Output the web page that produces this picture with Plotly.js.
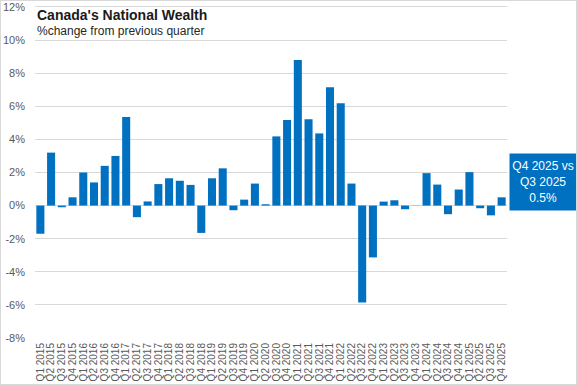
<!DOCTYPE html>
<html><head><meta charset="utf-8">
<script src="https://cdn.plot.ly/plotly-3.0.1.min.js"></script>
<style>
html,body{margin:0;padding:0;background:#fff;}
#chart{width:575px;height:383px;border:1px solid #d9d9d9;}
</style></head>
<body><div id="chart"></div>
<script>
const quarters = ["Q1 2015","Q2 2015","Q3 2015","Q4 2015","Q1 2016","Q2 2016","Q3 2016","Q4 2016",
"Q1 2017","Q2 2017","Q3 2017","Q4 2017","Q1 2018","Q2 2018","Q3 2018","Q4 2018",
"Q1 2019","Q2 2019","Q3 2019","Q4 2019","Q1 2020","Q2 2020","Q3 2020","Q4 2020",
"Q1 2021","Q2 2021","Q3 2021","Q4 2021","Q1 2022","Q2 2022","Q3 2022","Q4 2022",
"Q1 2023","Q2 2023","Q3 2023","Q4 2023","Q1 2024","Q2 2024","Q3 2024","Q4 2024",
"Q1 2025","Q2 2025","Q3 2025","Q4 2025"];
const pctChange = [-1.7,3.2,-0.1,0.5,2.0,1.4,2.4,3.0,
5.35,-0.7,0.25,1.3,1.65,1.5,1.25,-1.65,
1.65,2.25,-0.28,0.36,1.33,0.08,4.18,5.17,
8.79,5.21,4.36,7.15,6.18,1.33,-5.86,-3.13,
0.24,0.32,-0.22,0.01,1.96,1.27,-0.52,0.97,
2.02,-0.16,-0.59,0.5];
const yTicks = [-8,-6,-4,-2,0,2,4,6,8,10,12];
const yTickText = ["-8%","-6%","-4%","-2%","0%","2%","4%","6%","8%","10%","12%"];
const titleText = "Canada's National Wealth";
const subtitleText = "%change from previous quarter";
const calloutText = "Q4 2025 vs<br>Q3 2025<br>0.5%";

const trace = {type:'bar', x:quarters, y:pctChange, marker:{color:'#0070C0'}, hoverinfo:'x+y'};
const layout = {
  width:575, height:383,
  margin:{l:34,r:69,t:1,b:46},
  paper_bgcolor:'#fff', plot_bgcolor:'#fff',
  bargap:0.25,
  showlegend:false,
  font:{family:'Liberation Sans, Arial, sans-serif', color:'#595959'},
  xaxis:{type:'category', tickmode:'array', tickvals:quarters, ticktext:quarters, tickangle:-90, tickfont:{size:10,color:'#595959'}, showgrid:false, zeroline:false, showline:false, ticks:'', automargin:false, ticklabelstandoff:2},
  yaxis:{autorange:false, range:[-8,12.3], tickmode:'array', tickvals:yTicks, ticktext:yTickText, tickfont:{size:11,color:'#595959'}, gridcolor:'#d9d9d9', gridwidth:1, zeroline:true, zerolinecolor:'#d9d9d9', zerolinewidth:1, showline:false, ticks:'', automargin:false, ticklabelstandoff:9, ticklabeloverflow:'allow'},
  annotations:[
    {xref:'paper', yref:'paper', x:0.0, y:0.931, xanchor:'left', yanchor:'bottom', text:'<b>'+titleText+'</b>', showarrow:false, font:{size:14, color:'#1a1a1a', family:'Liberation Sans, Arial, sans-serif'}},
    {xref:'paper', yref:'paper', x:0.0, y:0.939, xanchor:'left', yanchor:'top', text:subtitleText, showarrow:false, font:{size:12, color:'#262626', family:'Liberation Sans, Arial, sans-serif'}},
    {xref:'paper', yref:'y', x:1.004, y:1.4, xanchor:'left', yanchor:'middle', text:calloutText, showarrow:false, bgcolor:'#0070C0', width:64, height:54, align:'center', font:{size:12, color:'#ffffff', family:'Liberation Sans, Arial, sans-serif'}, borderpad:1}
  ]
};
Plotly.newPlot('chart',[trace],layout,{displayModeBar:false, staticPlot:true});
</script></body></html>
